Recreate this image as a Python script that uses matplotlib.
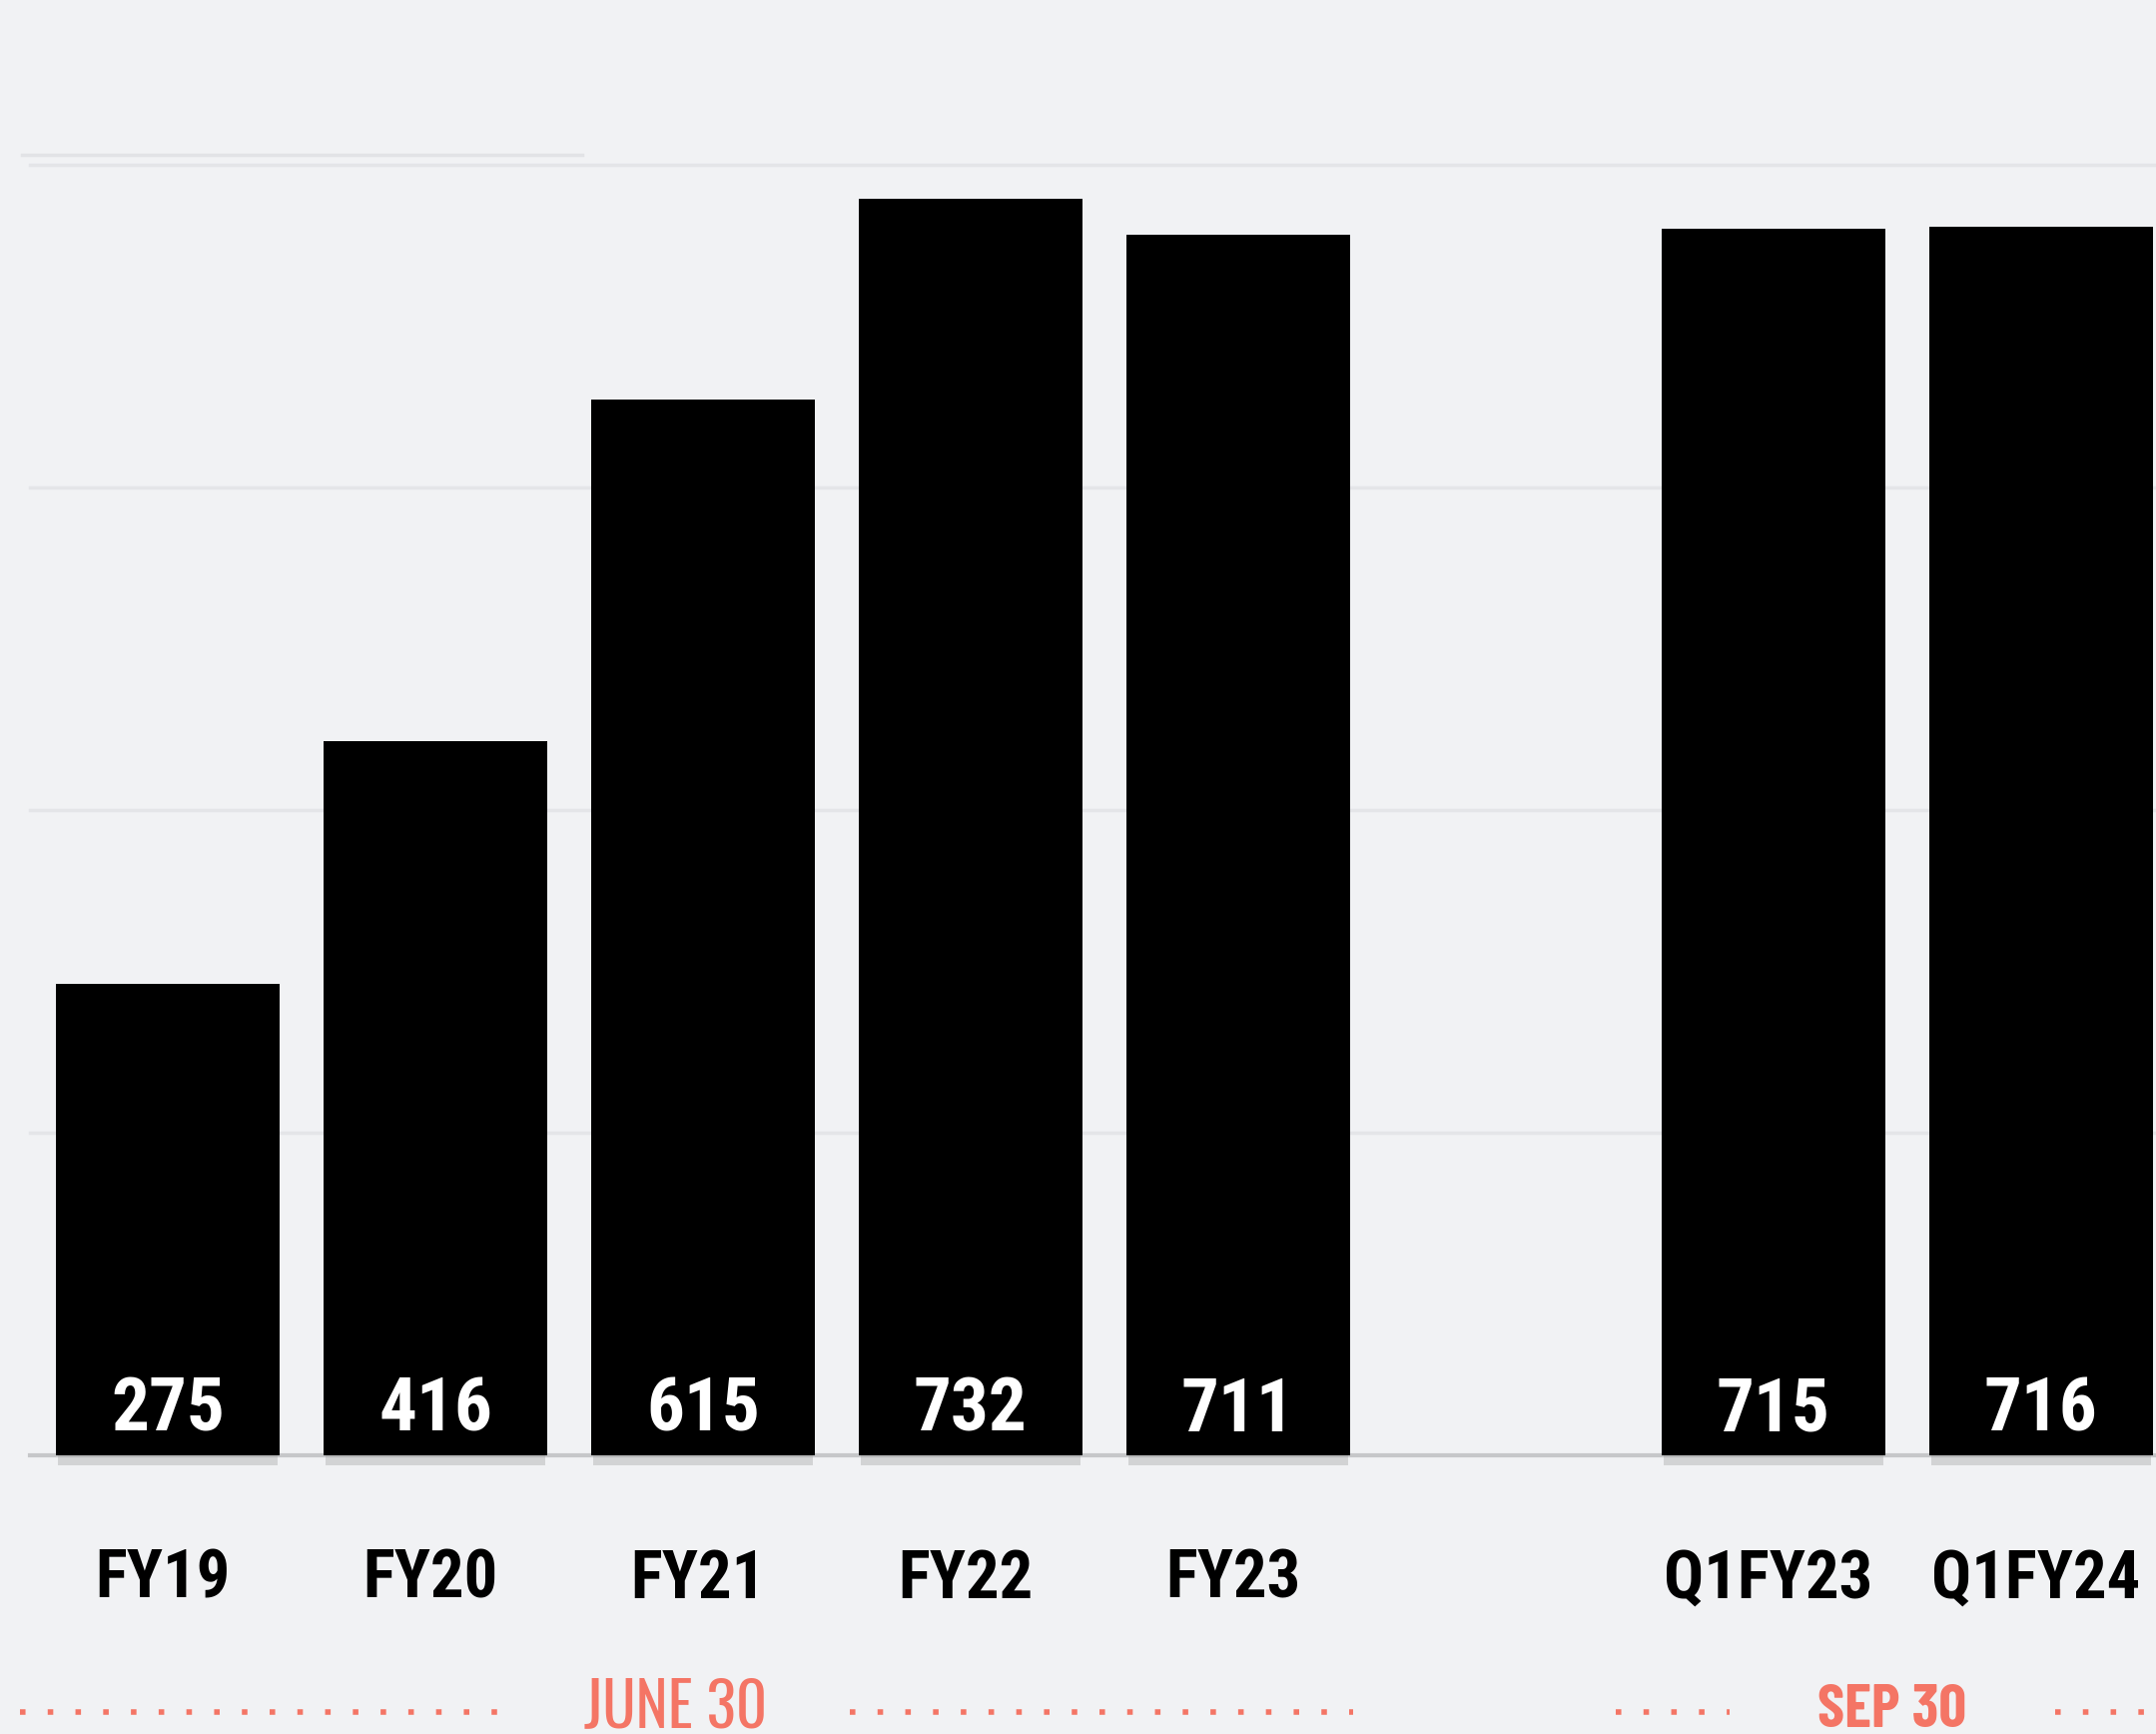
import matplotlib.pyplot as plt

# data
categories = ['FY19', 'FY20', 'FY21', 'FY22', 'FY23', 'Q1FY23', 'Q1FY24']
positions = [0, 1, 2, 3, 4, 6, 7]
values = [275, 416, 615, 732, 711, 715, 716]
grid_levels = [188, 376, 564, 752]

bg = '#f1f2f4'
salmon = '#f47565'
cond = ['Roboto Condensed', 'DejaVu Sans']

fig = plt.figure(figsize=(21.59, 17.36), dpi=100, facecolor=bg)
ax = fig.add_axes([0, 0.1607, 1, 0.8393])
ax.set_facecolor(bg)
ax.set_xlim(-0.627, 7.43)
ax.set_ylim(0, 848)

# faint gridlines
for g in grid_levels:
    ax.axhline(g, xmin=0.014, xmax=1, color='#e4e5e8', lw=2.5, zorder=0)
ax.axhline(758, xmin=0.010, xmax=0.27, color='#e2e3e6', lw=2.5, zorder=0)

# baseline
ax.axhline(0, xmin=0.014, xmax=1, color='#c6c7c9', lw=3, zorder=1, clip_on=False)

# soft shadow under the bars
ax.bar(positions, -6, width=0.82, color='#9a9a9a', alpha=0.35, clip_on=False, zorder=1)
ax.bar(positions, values, width=0.835, color='black', zorder=2)

for x, v in zip(positions, values):
    ax.text(x, 14, str(v), color='white', ha='center', va='baseline',
            fontsize=54, fontweight='bold', family=cond, zorder=3)

for x, c in zip(positions, categories):
    ax.text(x - 0.02, -83, c, color='black', ha='center', va='baseline',
            fontsize=48, fontweight='bold', family=cond, clip_on=False)

for s in ax.spines.values():
    s.set_visible(False)
ax.set_xticks([])
ax.set_yticks([])

# period labels with dotted leaders
base_y = 1 - 1729 / 1736
fig.text(677 / 2159, base_y, 'JUNE 30', color=salmon, ha='center', va='baseline',
         fontsize=44, family=['Oswald', 'DejaVu Sans'])
fig.text(1895 / 2159, base_y, 'SEP 30', color=salmon, ha='center', va='baseline',
         fontsize=44, fontweight='bold', family=['Barlow Condensed', 'DejaVu Sans'])

dot_y = 1 - 1714 / 1736
for x0, x1 in [(20, 500), (851, 1355), (1618, 1732), (2058, 2159)]:
    fig.add_artist(plt.Line2D([x0 / 2159, x1 / 2159], [dot_y, dot_y], color=salmon,
                              lw=4, linestyle=(0, (1, 4)), solid_capstyle='butt'))

fig.savefig('out.png', dpi=100, facecolor=bg)
